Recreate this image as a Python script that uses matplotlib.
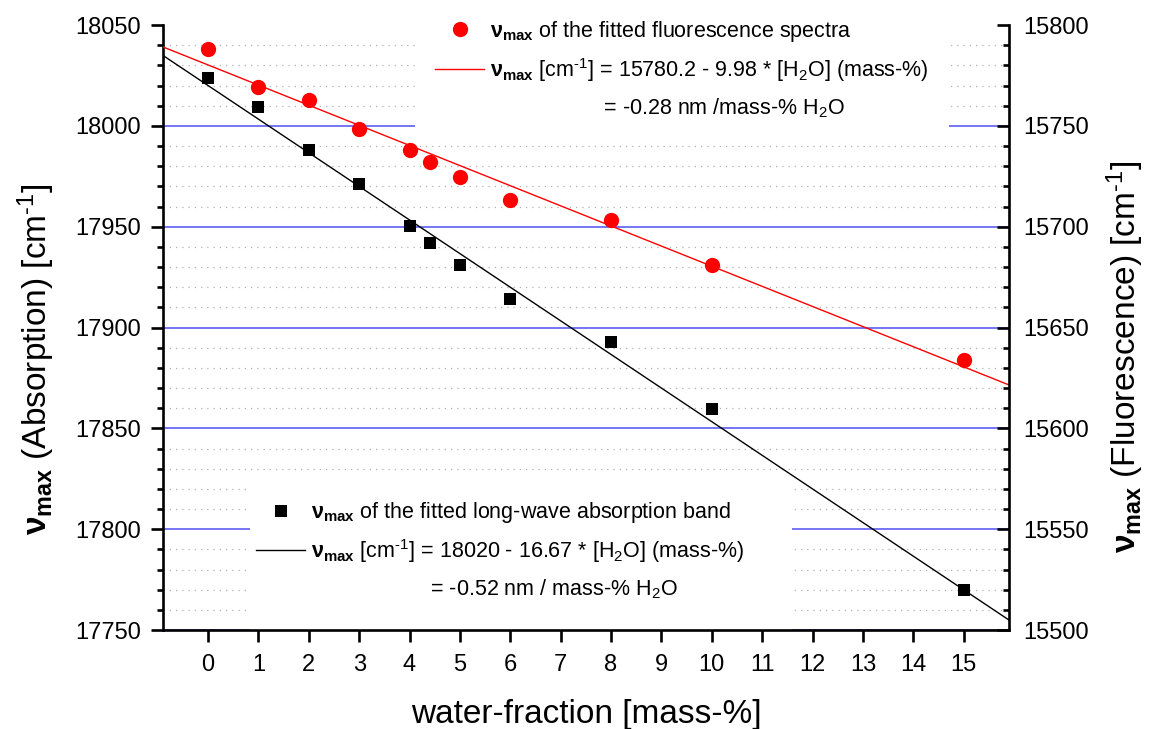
import matplotlib
matplotlib.use('Agg')
import matplotlib.pyplot as plt
from matplotlib.lines import Line2D
from matplotlib.patches import Rectangle
from matplotlib.ticker import MultipleLocator

plt.rcParams['font.family'] = ['Liberation Sans', 'DejaVu Sans']
plt.rcParams['mathtext.fontset'] = 'custom'
plt.rcParams['mathtext.rm'] = 'Liberation Sans'
plt.rcParams['mathtext.it'] = 'Liberation Sans:italic'
plt.rcParams['mathtext.bf'] = 'Liberation Sans:bold'
plt.rcParams['mathtext.sf'] = 'Liberation Sans'

# ---------------- data ----------------
water = [0, 1, 2, 3, 4, 4.4, 5, 6, 8, 10, 15]
nu_abs = [18023.6, 18009.5, 17988.0, 17971.0, 17950.3, 17941.9,
          17931.0, 17914.2, 17893.0, 17859.6, 17769.9]
nu_fl = [15788.1, 15769.4, 15762.8, 15748.6, 15738.0, 15732.0,
         15724.8, 15713.2, 15703.3, 15681.0, 15633.9]
abs_intercept, abs_slope = 18020.0, -16.67
fl_intercept, fl_slope = 15780.2, -9.98
x_range = [-0.9, 15.9]
x_ticks = list(range(0, 16))
abs_range = (17750, 18050)
fl_range = (15500, 15800)

abs_fit_y = [abs_intercept + abs_slope * x for x in x_range]
fl_fit_y = [fl_intercept + fl_slope * x for x in x_range]

NU = r'$\mathbf{ν}_\mathbf{max}$'
CM = r'[cm$^{\text{-1}}$]'

fig = plt.figure(figsize=(11.53, 7.29), dpi=100)
ax = fig.add_axes([0.1411, 0.1358, 0.7340, 0.8299])
ax2 = ax.twinx()

ax.set_xlim(*x_range)
ax.set_ylim(*abs_range)
ax2.set_ylim(*fl_range)
ax.set_xticks(x_ticks)
ax.yaxis.set_major_locator(MultipleLocator(50))
ax.yaxis.set_minor_locator(MultipleLocator(10))
ax2.yaxis.set_major_locator(MultipleLocator(50))
ax2.yaxis.set_minor_locator(MultipleLocator(10))
ax.ticklabel_format(axis='y', useOffset=False)
ax2.ticklabel_format(axis='y', useOffset=False)

# grid
ax.set_axisbelow(True)
ax.yaxis.grid(True, which='major', color='#6a6af5', lw=1.3)
ax.yaxis.grid(True, which='minor', color='#b0b0b0', lw=0.9, linestyle=(0, (1, 4)))

# white legend backgrounds (occluding grid)
ax.add_patch(Rectangle((0.2983, 0.8165), 0.6308, 0.19, transform=ax.transAxes,
                       facecolor='white', edgecolor='none', zorder=1))
ax.add_patch(Rectangle((0.1032, 0.0), 0.6406, 0.2496, transform=ax.transAxes,
                       facecolor='white', edgecolor='none', zorder=1))

# data
ax.plot(x_range, abs_fit_y, color='black', lw=1.0, zorder=2)
ax.plot(water, nu_abs, linestyle='none', marker='s', ms=8, color='black',
        mew=0, zorder=3)
ax2.plot(x_range, fl_fit_y, color='red', lw=1.0, zorder=2)
ax2.plot(water, nu_fl, linestyle='none', marker='o', ms=11, color='red',
         mew=0, zorder=3)

# spines & ticks
for s in ['top', 'right']:
    ax.spines[s].set_visible(False)
for s in ['top', 'left', 'bottom']:
    ax2.spines[s].set_visible(False)
ax.spines['left'].set_linewidth(1.9)
ax.spines['bottom'].set_linewidth(1.9)
ax2.spines['right'].set_linewidth(1.9)

ax.tick_params(axis='x', direction='out', length=8.6, width=1.9, pad=9, labelsize=17)
ax.tick_params(axis='y', which='major', direction='out', length=8.6, width=1.9,
               pad=7, labelsize=17)
ax.tick_params(axis='y', which='minor', direction='out', length=4.3, width=1.9)
ax2.tick_params(axis='y', which='major', direction='in', length=8.6, width=1.9,
                pad=10, labelsize=17)
ax2.tick_params(axis='y', which='minor', direction='in', length=4.3, width=1.9)

# labels
ax.set_xlabel('water-fraction [mass-%]', fontsize=24)
ax.xaxis.set_label_coords(0.5008, -0.1140)
ax.set_ylabel(NU + ' (Absorption) ' + CM, fontsize=24, va='center', ha='center')
ax.yaxis.set_label_coords(-0.1497, 0.448)
ax2.set_ylabel(NU + ' (Fluorescence) ' + CM, fontsize=24, va='center', ha='center')
ax2.yaxis.set_label_coords(1.1371, 0.451)

# legends
fs = 15.5
h_fl_pt = Line2D([], [], linestyle='none', marker='o', ms=11, color='red', mew=0)
h_fl_ln = Line2D([], [], color='red', lw=1.0)
h_abs_pt = Line2D([], [], linestyle='none', marker='s', ms=8, color='black', mew=0)
h_abs_ln = Line2D([], [], color='black', lw=1.0)
h_none = Line2D([], [], linestyle='none')

leg_top = ax2.legend(
    [h_fl_pt, h_fl_ln, h_none],
    [NU + ' of the fitted fluorescence spectra',
     NU + ' ' + CM + ' = 15780.2 - 9.98 * [H$_2$O] (mass-%)',
     ' ' * 19 + '= -0.28 nm /mass-% H$_2$O'],
    loc='upper left', bbox_to_anchor=(0.3217, 1.0100), frameon=False,
    borderpad=0, borderaxespad=0, fontsize=fs, handlelength=2.3,
    handletextpad=0.27, labelspacing=0.56)

leg_bot = ax.legend(
    [h_abs_pt, h_abs_ln, h_none],
    [NU + ' of the fitted long-wave absorption band',
     NU + ' ' + CM + ' = 18020 - 16.67 * [H$_2$O] (mass-%)',
     ' ' * 20 + '= -0.52 nm / mass-% H$_2$O'],
    loc='upper left', bbox_to_anchor=(0.1102, 0.2148), frameon=False,
    borderpad=0, borderaxespad=0, fontsize=fs, handlelength=2.3,
    handletextpad=0.27, labelspacing=0.56)
leg_bot.set_zorder(5)

# no grid line along the top limit
fig.canvas.draw()
for t in ax.yaxis.get_major_ticks():
    if abs(t.get_loc() - abs_range[1]) < 1e-6:
        t.gridline.set_visible(False)

fig.savefig('out.png', dpi=100)
